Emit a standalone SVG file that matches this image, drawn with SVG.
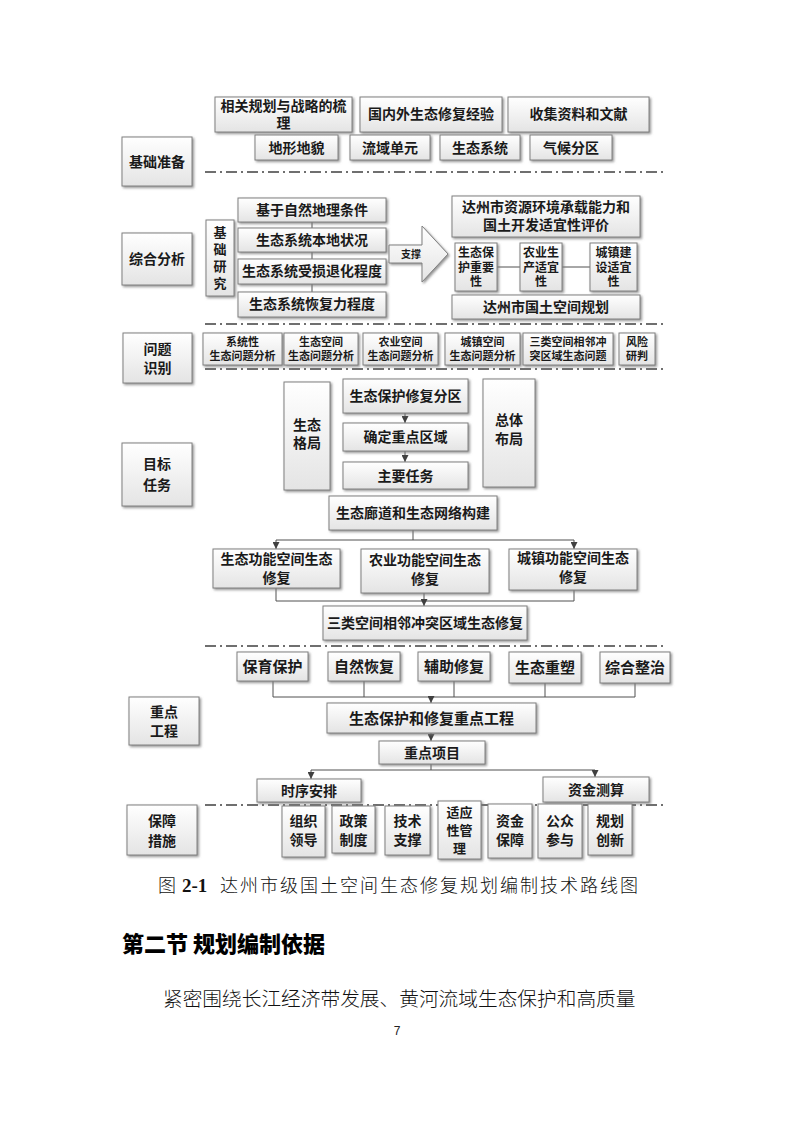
<svg xmlns="http://www.w3.org/2000/svg" width="794" height="1123" viewBox="0 0 794 1123">
<defs>
<linearGradient id="g" x1="0" y1="0" x2="0" y2="1">
<stop offset="0" stop-color="#ffffff"/>
<stop offset="1" stop-color="#e4e4e4"/>
</linearGradient>
<filter id="sh" x="-10%" y="-10%" width="130%" height="140%">
<feDropShadow dx="1.5" dy="1.5" stdDeviation="0.8" flood-color="#7a7a7a" flood-opacity="0.8"/>
</filter>
<marker id="ar" viewBox="0 0 8 8" refX="8" refY="4" markerWidth="7" markerHeight="7" markerUnits="userSpaceOnUse" orient="auto">
<path d="M0,0 L8,4 L0,8 z" fill="#404040"/>
</marker>
</defs>
<style>
.b{fill:url(#g);stroke:#808080;stroke-width:1;filter:url(#sh)}
.t{font-family:"Noto Sans CJK SC","Noto Sans",sans-serif;font-weight:700;fill:#1a1a1a;text-anchor:middle}
.s14{font-size:14px}.s13{font-size:13px}.s12{font-size:12px}.s11{font-size:11px}.s15{font-size:15px}.s10{font-size:10px}
.c{fill:none;stroke:#505050;stroke-width:1}
.ca{fill:none;stroke:#505050;stroke-width:1;marker-end:url(#ar)}
.d{fill:none;stroke:#404040;stroke-width:1.6;stroke-dasharray:11 4 2 4}
.cap{font-family:"Noto Sans CJK SC",sans-serif;font-weight:300;fill:#111}
</style>
<rect width="794" height="1123" fill="#ffffff"/>

<g id="connectors">
<line class="c" x1="312" y1="222" x2="312" y2="292"/>
<line class="c" x1="497" y1="267" x2="520" y2="267"/>
<line class="c" x1="562" y1="267" x2="590" y2="267"/>
<line class="ca" x1="405" y1="413" x2="405" y2="423"/>
<line class="ca" x1="405" y1="451" x2="405" y2="462"/>
<polyline class="c" points="413,530 413,540"/>
<line class="c" x1="276" y1="540" x2="574" y2="540"/>
<line class="ca" x1="276" y1="540" x2="276" y2="549"/>
<line class="ca" x1="574" y1="540" x2="574" y2="549"/>
<polyline class="c" points="276,588 276,601 574,601 574,590"/>
<line class="ca" x1="424" y1="593" x2="424" y2="606"/>
<polyline class="c" points="273,681 273,697 635,697 635,683"/>
<line class="c" x1="364" y1="681" x2="364" y2="697"/>
<line class="c" x1="454" y1="681" x2="454" y2="697"/>
<line class="c" x1="545" y1="683" x2="545" y2="697"/>
<line class="ca" x1="431" y1="697" x2="431" y2="703"/>
<line class="ca" x1="431" y1="733" x2="431" y2="741"/>
<line class="c" x1="431" y1="764" x2="431" y2="770"/>
<line class="c" x1="311" y1="770" x2="595" y2="770"/>
<line class="ca" x1="311" y1="770" x2="311" y2="779"/>
<line class="ca" x1="595" y1="770" x2="595" y2="777"/>
</g>

<g id="dividers">
<line class="d" x1="205" y1="172" x2="665" y2="172"/>
<line class="d" x1="205" y1="324" x2="665" y2="324"/>
<line class="d" x1="205" y1="369" x2="665" y2="369"/>
<line class="d" x1="205" y1="646" x2="665" y2="646"/>
<line class="d" x1="205" y1="805" x2="665" y2="805"/>
</g>

<!-- Section 1 -->
<g id="lbl-jczb"><rect class="b" x="122" y="137" width="70" height="49"/><text class="t s14" x="157" y="167">基础准备</text></g>
<g id="n-xgh"><rect class="b" x="215" y="97" width="137" height="35"/><text class="t s14" x="283.5" y="111">相关规划与战略的梳</text><text class="t s14" x="283.5" y="128">理</text></g>
<g id="n-gnw"><rect class="b" x="360" y="97" width="142" height="35"/><text class="t s14" x="431" y="119">国内外生态修复经验</text></g>
<g id="n-sjzl"><rect class="b" x="508" y="97" width="141" height="35"/><text class="t s14" x="578.5" y="119">收集资料和文献</text></g>
<g id="n-dxdm"><rect class="b" x="255" y="135" width="83" height="25"/><text class="t s14" x="296.5" y="153">地形地貌</text></g>
<g id="n-lydy"><rect class="b" x="350" y="135" width="80" height="25"/><text class="t s14" x="390" y="153">流域单元</text></g>
<g id="n-stxt"><rect class="b" x="440" y="135" width="80" height="25"/><text class="t s14" x="480" y="153">生态系统</text></g>
<g id="n-qhfq"><rect class="b" x="530" y="135" width="82" height="25"/><text class="t s14" x="571" y="153">气候分区</text></g>

<!-- Section 2 -->
<g id="lbl-zhfx"><rect class="b" x="122" y="233" width="70" height="52"/><text class="t s14" x="157" y="264">综合分析</text></g>
<g id="n-jcyj"><rect class="b" x="206" y="220" width="28" height="76"/><text class="t s13" x="220" y="237">基</text><text class="t s13" x="220" y="254">础</text><text class="t s13" x="220" y="271">研</text><text class="t s13" x="220" y="288">究</text></g>
<g id="n-zrdl"><rect class="b" x="238" y="198" width="148" height="24"/><text class="t s14" x="312" y="215">基于自然地理条件</text></g>
<g id="n-bdzk"><rect class="b" x="238" y="228" width="148" height="24"/><text class="t s14" x="312" y="245">生态系统本地状况</text></g>
<g id="n-sstd"><rect class="b" x="238" y="259" width="148" height="25"/><text class="t s14" x="312" y="276">生态系统受损退化程度</text></g>
<g id="n-hfl"><rect class="b" x="238" y="292" width="148" height="25"/><text class="t s14" x="312" y="309">生态系统恢复力程度</text></g>
<g id="n-zc"><polygon class="b" points="389,245 422,245 422,226 448,254 422,282 422,263 389,263"/><text class="t s10" x="411" y="258">支撑</text></g>
<g id="n-zycz"><rect class="b" x="452" y="196" width="188" height="41"/><text class="t s14" x="546" y="212">达州市资源环境承载能力和</text><text class="t s14" x="546" y="230">国土开发适宜性评价</text></g>
<g id="n-stbh"><rect class="b" x="455" y="243" width="42" height="48"/><text class="t s12" x="476" y="257">生态保</text><text class="t s12" x="476" y="271.5">护重要</text><text class="t s12" x="476" y="286">性</text></g>
<g id="n-nysc"><rect class="b" x="520" y="243" width="42" height="48"/><text class="t s12" x="541" y="257">农业生</text><text class="t s12" x="541" y="271.5">产适宜</text><text class="t s12" x="541" y="286">性</text></g>
<g id="n-czjs"><rect class="b" x="590" y="243" width="47" height="48"/><text class="t s12" x="613.5" y="257">城镇建</text><text class="t s12" x="613.5" y="271.5">设适宜</text><text class="t s12" x="613.5" y="286">性</text></g>
<g id="n-gtkj"><rect class="b" x="452" y="295" width="188" height="24"/><text class="t s14" x="546" y="312">达州市国土空间规划</text></g>

<!-- Section 3 -->
<g id="lbl-wtsb"><rect class="b" x="123" y="333" width="69" height="50"/><text class="t s14" x="157.5" y="354">问题</text><text class="t s14" x="157.5" y="373">识别</text></g>
<g id="n-xtx"><rect class="b" x="203" y="333" width="79" height="32"/><text class="t s11" x="242.5" y="346">系统性</text><text class="t s11" x="242.5" y="360">生态问题分析</text></g>
<g id="n-stkj"><rect class="b" x="284" y="333" width="74" height="32"/><text class="t s11" x="321" y="346">生态空间</text><text class="t s11" x="321" y="360">生态问题分析</text></g>
<g id="n-nykj"><rect class="b" x="363" y="333" width="75" height="32"/><text class="t s11" x="400.5" y="346">农业空间</text><text class="t s11" x="400.5" y="360">生态问题分析</text></g>
<g id="n-czkj"><rect class="b" x="445" y="333" width="75" height="32"/><text class="t s11" x="482.5" y="346">城镇空间</text><text class="t s11" x="482.5" y="360">生态问题分析</text></g>
<g id="n-slkj"><rect class="b" x="523" y="333" width="90" height="32"/><text class="t s11" x="568" y="346">三类空间相邻冲</text><text class="t s11" x="568" y="360">突区域生态问题</text></g>
<g id="n-fxyp"><rect class="b" x="619" y="333" width="36" height="32"/><text class="t s11" x="637" y="346">风险</text><text class="t s11" x="637" y="360">研判</text></g>

<!-- Section 4 -->
<g id="lbl-mbrw"><rect class="b" x="122" y="443" width="70" height="63"/><text class="t s14" x="157" y="469">目标</text><text class="t s14" x="157" y="490">任务</text></g>
<g id="n-stgj"><rect class="b" x="284" y="382" width="46" height="108"/><text class="t s14" x="307" y="430">生态</text><text class="t s14" x="307" y="448">格局</text></g>
<g id="n-bhfq"><rect class="b" x="343" y="379" width="125" height="34"/><text class="t s14" x="405.5" y="401">生态保护修复分区</text></g>
<g id="n-zdqy"><rect class="b" x="343" y="423" width="125" height="28"/><text class="t s14" x="405.5" y="442">确定重点区域</text></g>
<g id="n-zyrw"><rect class="b" x="343" y="462" width="125" height="27"/><text class="t s14" x="405.5" y="481">主要任务</text></g>
<g id="n-ztbj"><rect class="b" x="483" y="379" width="52" height="108"/><text class="t s14" x="509" y="425">总体</text><text class="t s14" x="509" y="444">布局</text></g>
<g id="n-ldwl"><rect class="b" x="329" y="496" width="168" height="34"/><text class="t s14" x="413" y="518">生态廊道和生态网络构建</text></g>
<g id="n-stgn"><rect class="b" x="213" y="549" width="127" height="39"/><text class="t s14" x="276.5" y="564">生态功能空间生态</text><text class="t s14" x="276.5" y="583">修复</text></g>
<g id="n-nygn"><rect class="b" x="361" y="549" width="128" height="44"/><text class="t s14" x="425" y="565">农业功能空间生态</text><text class="t s14" x="425" y="584">修复</text></g>
<g id="n-czgn"><rect class="b" x="509" y="549" width="128" height="41"/><text class="t s14" x="573" y="563">城镇功能空间生态</text><text class="t s14" x="573" y="582">修复</text></g>
<g id="n-slct"><rect class="b" x="323" y="606" width="204" height="34"/><text class="t s14" x="425" y="628">三类空间相邻冲突区域生态修复</text></g>

<!-- Section 5 -->
<g id="lbl-zdgc"><rect class="b" x="129" y="697" width="70" height="48"/><text class="t s14" x="164" y="717">重点</text><text class="t s14" x="164" y="736">工程</text></g>
<g id="n-bybh"><rect class="b" x="237" y="652" width="71" height="29"/><text class="t s15" x="272.5" y="672">保育保护</text></g>
<g id="n-zrhf"><rect class="b" x="328" y="652" width="72" height="29"/><text class="t s15" x="364" y="672">自然恢复</text></g>
<g id="n-fzxf"><rect class="b" x="418" y="652" width="72" height="29"/><text class="t s15" x="454" y="672">辅助修复</text></g>
<g id="n-stcs"><rect class="b" x="509" y="652" width="72" height="31"/><text class="t s15" x="545" y="673">生态重塑</text></g>
<g id="n-zhzz"><rect class="b" x="600" y="652" width="70" height="31"/><text class="t s15" x="635" y="673">综合整治</text></g>
<g id="n-zdgc"><rect class="b" x="327" y="703" width="209" height="30"/><text class="t s15" x="431.5" y="724">生态保护和修复重点工程</text></g>
<g id="n-zdxm"><rect class="b" x="379" y="741" width="106" height="23"/><text class="t s14" x="432" y="758">重点项目</text></g>
<g id="n-sxap"><rect class="b" x="257" y="779" width="104" height="23"/><text class="t s14" x="309" y="796">时序安排</text></g>
<g id="n-zjcs"><rect class="b" x="543" y="777" width="106" height="25"/><text class="t s14" x="596" y="795">资金测算</text></g>

<!-- Section 6 -->
<g id="lbl-bzcs"><rect class="b" x="127" y="805" width="70" height="50"/><text class="t s14" x="162" y="826">保障</text><text class="t s14" x="162" y="846">措施</text></g>
<g id="n-zzld"><rect class="b" x="282" y="806" width="43" height="51"/><text class="t s14" x="303.5" y="826">组织</text><text class="t s14" x="303.5" y="845">领导</text></g>
<g id="n-zczd"><rect class="b" x="332" y="806" width="43" height="47"/><text class="t s14" x="353.5" y="826">政策</text><text class="t s14" x="353.5" y="845">制度</text></g>
<g id="n-jszc"><rect class="b" x="385" y="806" width="45" height="49"/><text class="t s14" x="407.5" y="826">技术</text><text class="t s14" x="407.5" y="845">支撑</text></g>
<g id="n-sygl"><rect class="b" x="438" y="801" width="43" height="58"/><text class="t s13" x="459.5" y="817">适应</text><text class="t s13" x="459.5" y="835">性管</text><text class="t s13" x="459.5" y="853">理</text></g>
<g id="n-zjbz"><rect class="b" x="488" y="804" width="44" height="54"/><text class="t s14" x="510" y="826">资金</text><text class="t s14" x="510" y="845">保障</text></g>
<g id="n-gzcy"><rect class="b" x="538" y="804" width="44" height="54"/><text class="t s14" x="560" y="826">公众</text><text class="t s14" x="560" y="845">参与</text></g>
<g id="n-ghcx"><rect class="b" x="588" y="804" width="44" height="51"/><text class="t s14" x="610" y="826">规划</text><text class="t s14" x="610" y="845">创新</text></g>

<text class="cap" x="158" y="892" font-size="18">图</text>
<text x="182" y="892" font-family="Liberation Serif,serif" font-weight="700" font-size="19" fill="#111">2-1</text>
<text class="cap" x="220" y="892" font-size="18" letter-spacing="2">达州市级国土空间生态修复规划编制技术路线图</text>
<text x="122" y="952" font-family="Noto Sans CJK SC,sans-serif" font-weight="900" font-size="22" fill="#000">第二节 规划编制依据</text>
<text class="cap" x="163" y="1006" font-size="19.7">紧密围绕长江经济带发展、黄河流域生态保护和高质量</text>
<text x="397" y="1035" font-family="Liberation Sans,sans-serif" font-size="12" fill="#222" text-anchor="middle">7</text>
</svg>
